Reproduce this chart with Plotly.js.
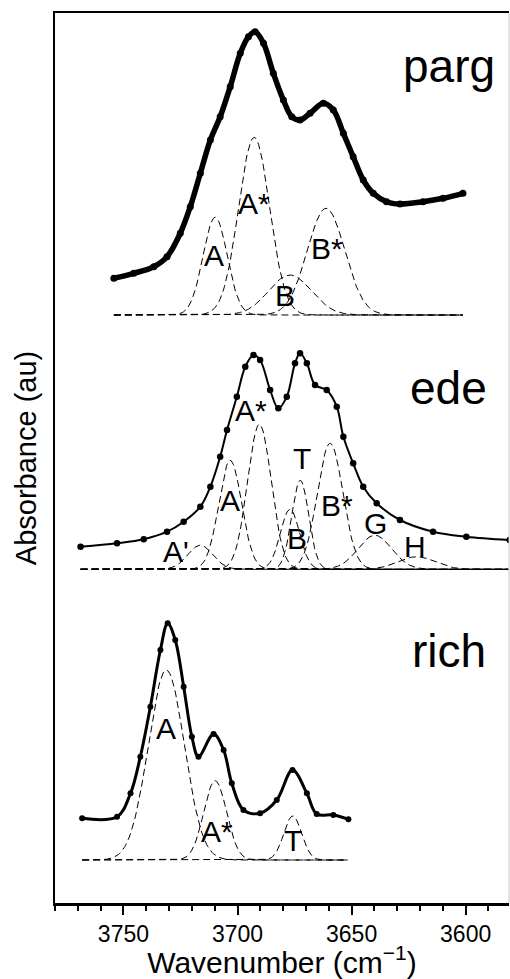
<!DOCTYPE html>
<html>
<head>
<meta charset="utf-8">
<script src="https://cdn.plot.ly/plotly-3.0.1.min.js"></script>
<style>html,body{margin:0;padding:0;background:#fff;}#chart{width:510px;height:979px;}</style>
</head>
<body>
<div id="chart"></div>
<script>
// ---- measured spectra (wavenumber, absorbance in arbitrary stacked units) ----
const pargWn = [3754.2,3745.5,3736.7,3730.9,3725.1,3720.7,3716.3,3711.9,3707.6,3703.2,3698.8,3695.2,3692.3,3688.6,3684.3,3679.9,3676.2,3672.6,3668.2,3662.4,3658.0,3653.6,3649.3,3644.9,3640.5,3634.7,3628.8,3618.7,3609.9,3601.2];
const pargAbs = [624.7,629.7,636.3,646.3,669.7,696.3,729.7,763.0,786.3,816.3,849.7,866.3,871.3,859.7,829.7,803.0,786.3,783.0,789.7,799.7,793.0,769.7,746.3,723.0,709.7,701.3,699.0,701.3,704.7,709.7];

const edeWn = [3768.8,3752.8,3741.1,3730.9,3723.6,3716.3,3711.9,3707.6,3704.6,3700.3,3696.6,3693.0,3690.1,3685.7,3682.1,3678.4,3674.8,3672.6,3669.6,3666.0,3660.9,3656.5,3653.6,3649.3,3644.9,3639.0,3628.8,3614.3,3599.7,3580.7];
const edeAbs = [356.3,359.7,363.7,371.3,381.3,396.3,416.3,446.3,473.0,506.3,536.3,548.0,543.0,513.0,494.7,506.3,539.7,549.7,539.7,518.0,513.0,496.3,466.3,439.7,416.3,399.7,383.0,371.3,366.3,363.0];

const richWn = [3768.1,3752.8,3746.9,3742.6,3738.2,3733.8,3730.6,3727.3,3723.6,3720.0,3717.1,3710.5,3706.1,3702.5,3697.4,3690.1,3682.8,3675.9,3669.6,3665.3,3658.0,3651.4];
const richAbs = [84.7,86.3,109.7,146.3,196.3,253.0,279.7,263.0,216.3,166.3,146.3,169.0,153.0,119.7,93.0,89.7,103.0,133.0,109.7,89.0,88.0,83.7];

// ---- fitted Gaussian components: label, centre (cm-1), height, sigma (cm-1) ----
const pargCompLabels = ["A","A*","B","B*"];
const pargCompCentre = [3709.8,3692.7,3677.0,3661.2];
const pargCompHeight = [97.7,177.7,40.0,106.7];
const pargCompSigma  = [5.3,6.8,9.3,8.2];

const edeCompLabels = ["A'","A","A*","B","T","B*","G","H"];
const edeCompCentre = [3716.3,3703.2,3690.4,3677.0,3672.5,3659.4,3639.8,3621.5];
const edeCompHeight = [24.0,109.0,145.0,60.0,89.0,126.0,34.0,12.6];
const edeCompSigma  = [5.5,5.0,5.2,4.2,3.7,5.6,7.4,8.0];

const richCompLabels = ["A","A*","T"];
const richCompCentre = [3731.2,3709.8,3675.8];
const richCompHeight = [190.0,79.3,44.0];
const richCompSigma  = [7.9,5.0,3.9];

// ---- panel layout (vertical offset of each component baseline, x span of fit) ----
const panels = [
  {name:"parg", wn:pargWn, abs:pargAbs, lab:pargCompLabels, c:pargCompCentre, h:pargCompHeight, s:pargCompSigma,
   base:588, span:[3754.2,3601.2], lineW:5.5, mk:7,
   title:{x:3607.5, y:837},
   labelPos:[[3710.4,648],[3692.6,699.7],[3679.1,608],[3660.6,654.7]]},
  {name:"ede", wn:edeWn, abs:edeAbs, lab:edeCompLabels, c:edeCompCentre, h:edeCompHeight, s:edeCompSigma,
   base:333.7, span:[3768.8,3581], lineW:2, mk:6.5,
   title:{x:3607.5, y:515},
   labelPos:[[3726.9,351.3],[3703.3,403],[3694.2,493],[3674,364.7],[3671.6,444.7],[3656.2,398],[3639.7,379.7],[3622.2,356.3]]},
  {name:"rich", wn:richWn, abs:richAbs, lab:richCompLabels, c:richCompCentre, h:richCompHeight, s:richCompSigma,
   base:43, span:[3768.1,3651.4], lineW:3, mk:6,
   title:{x:3607.5, y:252},
   labelPos:[[3731.3,174.7],[3709.1,71.3],[3675.8,63]]}
];

const FONT = "Liberation Sans, Arial, Helvetica, sans-serif";
const traces = [];
const annotations = [];

panels.forEach(p => {
  // component curves
  for (let k = 0; k < p.c.length; k++) {
    const xs = [], ys = [];
    for (let x = p.span[0]; x >= p.span[1] - 1e-9; x -= 0.5) {
      xs.push(x);
      ys.push(p.base + p.h[k] * Math.exp(-0.5 * Math.pow((x - p.c[k]) / p.s[k], 2)));
    }
    traces.push({x:xs, y:ys, type:"scatter", mode:"lines", name:p.name+" "+p.lab[k],
      line:{color:"#000", width:1, dash:"7px,4px"}, hoverinfo:"skip"});
    annotations.push({x:p.labelPos[k][0], y:p.labelPos[k][1], text:p.lab[k], showarrow:false,
      xanchor:"center", yanchor:"middle", font:{family:FONT, size:30, color:"#000"}});
  }
  // measured data
  traces.push({x:p.wn, y:p.abs, type:"scatter", mode:"lines+markers", name:p.name,
    line:{color:"#000", width:p.lineW, shape:"spline", smoothing:1},
    marker:{color:"#000", size:p.mk}});
  annotations.push({x:p.title.x, y:p.title.y, text:p.name, showarrow:false,
    xanchor:"center", yanchor:"middle", font:{family:FONT, size:46, color:"#000"}});
});

const layout = {
  width:510, height:979,
  margin:{l:55, r:1, t:13, b:76, pad:0},
  paper_bgcolor:"#fff", plot_bgcolor:"#fff",
  showlegend:false,
  xaxis:{
    range:[3780,3581], showline:true, linecolor:"#000", linewidth:2.5, mirror:true,
    ticks:"outside", ticklen:9, tickwidth:2, tickcolor:"#000", dtick:50, tick0:3600,
    minor:{dtick:10, ticks:"outside", ticklen:5, tickwidth:2, tickcolor:"#000"},
    showgrid:false, zeroline:false,
    tickfont:{family:FONT, size:23, color:"#000"},
    title:{text:"Wavenumber (cm<sup>−1</sup>)", font:{family:FONT, size:30, color:"#000"}, standoff:2}
  },
  yaxis:{
    range:[0,890], showline:true, linecolor:"#000", linewidth:2.5, mirror:false,
    showticklabels:false, ticks:"", showgrid:false, zeroline:false,
    title:{text:"Absorbance (au)", font:{family:FONT, size:29, color:"#000"}, standoff:8}
  },
  shapes:[{type:"line", xref:"paper", yref:"paper", x0:1, x1:1, y0:0, y1:1, line:{color:"#c8c8c8", width:1}}],
  annotations:annotations
};

Plotly.newPlot("chart", traces, layout, {displayModeBar:false, staticPlot:true});
</script>
</body>
</html>
